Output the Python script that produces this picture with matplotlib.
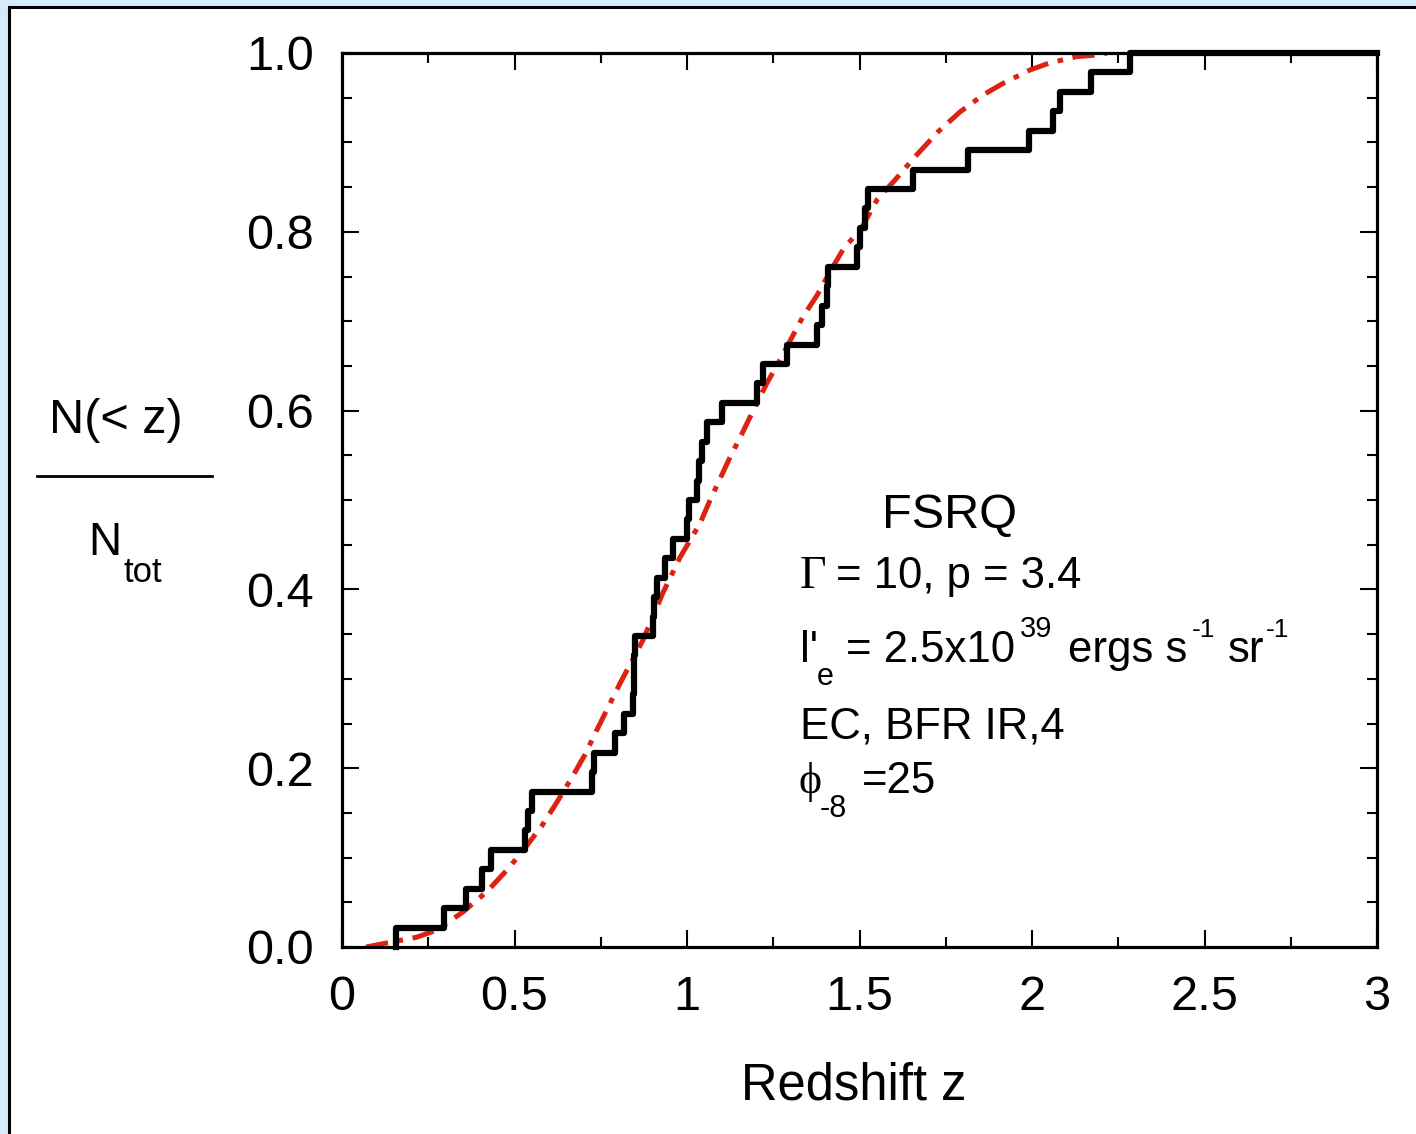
import numpy as np
import matplotlib
matplotlib.use("Agg")
from matplotlib import pyplot as plt
from matplotlib.lines import Line2D
from matplotlib.patches import Rectangle

# sorted redshifts of the sample, N_tot = 46
z_sample = [0.157, 0.296, 0.36, 0.405, 0.432, 0.530, 0.538, 0.55, 0.724, 0.73,
            0.791, 0.818, 0.843, 0.845, 0.847, 0.849, 0.901, 0.905, 0.913, 0.936,
            0.96, 1.0, 1.005, 1.03, 1.035, 1.043, 1.058, 1.10, 1.203, 1.22,
            1.29, 1.377, 1.39, 1.406, 1.41, 1.493, 1.50, 1.516, 1.525, 1.655,
            1.814, 1.99, 2.06, 2.08, 2.17, 2.284]

# model cumulative distribution (red dash-dot curve)
z_model = [0.07, 0.217, 0.275, 0.35, 0.42, 0.478, 0.525, 0.58, 0.623, 0.667,
           0.704, 0.739, 0.806, 0.872, 0.930, 0.98, 1.038, 1.067, 1.125, 1.154,
           1.197, 1.232, 1.27, 1.30, 1.336, 1.377, 1.414, 1.452, 1.507, 1.551,
           1.603, 1.661, 1.728, 1.791, 1.858, 1.916, 1.994, 2.052, 2.13, 2.197, 2.217]
f_model = [0.0, 0.011, 0.019, 0.039, 0.062, 0.086, 0.108, 0.136, 0.162, 0.19,
           0.215, 0.243, 0.295, 0.343, 0.396, 0.436, 0.474, 0.5, 0.548, 0.57,
           0.604, 0.631, 0.657, 0.679, 0.705, 0.729, 0.755, 0.78, 0.805, 0.836,
           0.858, 0.884, 0.912, 0.934, 0.953, 0.966, 0.981, 0.989, 0.996, 0.998, 1.0]

xticks = [0, 0.5, 1, 1.5, 2, 2.5, 3]
xticklabels = ["0", "0.5", "1", "1.5", "2", "2.5", "3"]
yticks = [0.0, 0.2, 0.4, 0.6, 0.8, 1.0]
yticklabels = ["0.0", "0.2", "0.4", "0.6", "0.8", "1.0"]

W, H = 1416, 1134
plt.rcParams['font.family'] = ['Liberation Sans', 'DejaVu Sans']
plt.rcParams['lines.scale_dashes'] = False

fig = plt.figure(figsize=(W / 100, H / 100), dpi=100)
fig.patch.set_facecolor('#d6ebfa')

# white panel with black left/top border (behind the axes)
fig.patches.append(Rectangle((9 / W, 0), 1, 1 - 7 / H, transform=fig.transFigure,
                             facecolor='white', edgecolor='none', zorder=-10))
fig.lines.append(Line2D([9 / W, 9 / W], [0, 1 - 7 / H], transform=fig.transFigure,
                        color='black', lw=2.2, zorder=-5))
fig.lines.append(Line2D([9 / W, 1], [1 - 7 / H, 1 - 7 / H], transform=fig.transFigure,
                        color='black', lw=2.2, zorder=-5))


def ptext(x, y, s, size, **kw):
    # place text by pixel position (y measured from top, baseline)
    fig.text(x / W, 1 - y / H, s, fontsize=size, va='baseline', ha='left', **kw)


ax = fig.add_axes([342 / W, 1 - 947 / H, (1377 - 342) / W, (947 - 53) / H])
ax.set_facecolor('none')

n = len(z_sample)
xs = np.r_[z_sample[0], z_sample, 3.0]
ys = np.r_[0, np.arange(1, n + 1), n] / n
ax.plot(z_model, f_model, color='#dd2211', lw=3.6, dashes=[16, 7, 4, 7], zorder=2)
ax.step(xs, ys, where='post', color='black', lw=4.5, zorder=3, clip_on=False)

ax.set_xlim(0, 3)
ax.set_ylim(0, 1)
ax.set_xticks(xticks)
ax.set_xticklabels(xticklabels)
ax.set_yticks(yticks)
ax.set_yticklabels(yticklabels)
ax.set_xticks(np.arange(0, 3.01, 0.25), minor=True)
ax.set_yticks(np.arange(0, 1.001, 0.05), minor=True)
ax.tick_params(which='both', direction='in', top=True, right=True, width=1.5)
ax.tick_params(which='major', length=12, labelsize=35, pad=20)
ax.tick_params(which='minor', length=7)
for sp in ax.spines.values():
    sp.set_linewidth(2.3)

# x label
fig.text(854 / W, 1 - 1100 / H, "Redshift z", fontsize=36.5, ha='center', va='baseline')

# y label as a fraction
fig.text(116 / W, 1 - 433 / H, "N(< z)", fontsize=35, ha='center', va='baseline')
fig.lines.append(Line2D([37 / W, 212 / W], [1 - 476 / H, 1 - 476 / H],
                        transform=fig.transFigure, color='black', lw=2))
ptext(88, 555, "N", 33)
ptext(123, 582, "tot", 25)

# annotation
serif = ['Liberation Serif', 'DejaVu Serif']
ptext(882, 528, "FSRQ", 35)
ptext(800, 588, "\u0393", 33, family=serif)
ptext(836, 588, "= 10, p = 3.4", 31.5)
ptext(800, 662, "l'", 31.5)
ptext(817, 685, "e", 22)
ptext(846, 662, "= 2.5x10", 31.5)
ptext(1020, 637, "39", 21)
ptext(1068, 662, "ergs s", 31.5)
ptext(1192, 637, "-1", 19)
ptext(1228, 662, "sr", 31.5)
ptext(1266, 637, "-1", 19)
ptext(800, 738, "EC, BFR IR,4", 31.5)
ptext(799, 793, "\u03d5", 31.5, family=serif)
ptext(820, 817, "-8", 22)
ptext(862, 793, "=25", 31.5)

plt.savefig("out.png", dpi=100, facecolor=fig.get_facecolor())
